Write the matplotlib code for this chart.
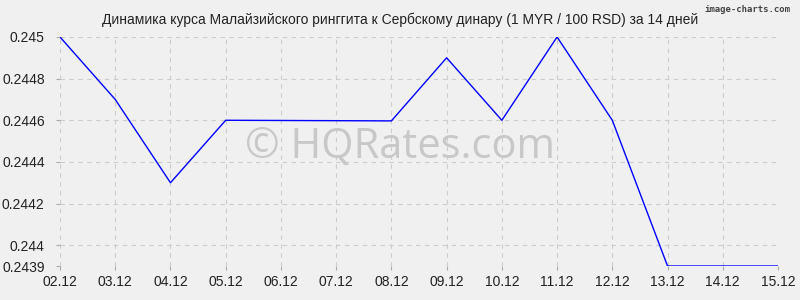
import matplotlib
matplotlib.use("Agg")
import matplotlib.pyplot as plt

dates = ["02.12", "03.12", "04.12", "05.12", "06.12", "07.12", "08.12",
         "09.12", "10.12", "11.12", "12.12", "13.12", "14.12", "15.12"]
rates = [0.2450, 0.2447, 0.2443, 0.24460, 0.244599, 0.244598, 0.244597,
         0.2449, 0.2446, 0.2450, 0.2446, 0.2439, 0.2439, 0.2439]
yticks = [0.2439, 0.244, 0.2442, 0.2444, 0.2446, 0.2448, 0.245]
ylabels = ["0.2439", "0.244", "0.2442", "0.2444", "0.2446", "0.2448", "0.245"]

bg = "#f0f0f0"
plt.rcParams["font.family"] = ["Liberation Sans", "DejaVu Sans"]

fig = plt.figure(figsize=(8, 3), dpi=100, facecolor=bg)
ax = fig.add_axes([0.075, 0.1133, 0.8975, 0.7634], facecolor=bg)

x = list(range(len(dates)))
ax.plot(x, rates, color="#0000ff", lw=1)

ax.set_xlim(0, len(dates) - 1)
ax.set_ylim(0.2439, 0.2450)
ax.set_xticks(x)
ax.set_xticklabels(dates)
ax.set_yticks(yticks)
ax.set_yticklabels(ylabels)
ax.tick_params(labelsize=10, colors="#aaaaaa", labelcolor="#222222", length=3)
ax.tick_params(axis="y", pad=8)
ax.grid(True, ls=(0, (4, 4)), color="#cccccc", lw=0.8)
for s in ax.spines.values():
    s.set_visible(False)

fig.text(0.5, 0.935, "Динамика курса Малайзийского ринггита к Сербскому динару (1 MYR / 100 RSD) за 14 дней",
         ha="center", va="center", fontsize=10, color="#222222")

fig.text(0.5, 0.51, "© HQRates.com", ha="center", va="center", fontsize=30,
         color="#c8c8c8", family=["Open Sans", "DejaVu Sans"])
fig.text(0.988, 0.985, "image-charts.com", ha="right", va="top", fontsize=6.5,
         color="#444444", family=["DejaVu Sans Mono"], fontweight="bold")

fig.savefig("out.png", dpi=100, facecolor=bg)
